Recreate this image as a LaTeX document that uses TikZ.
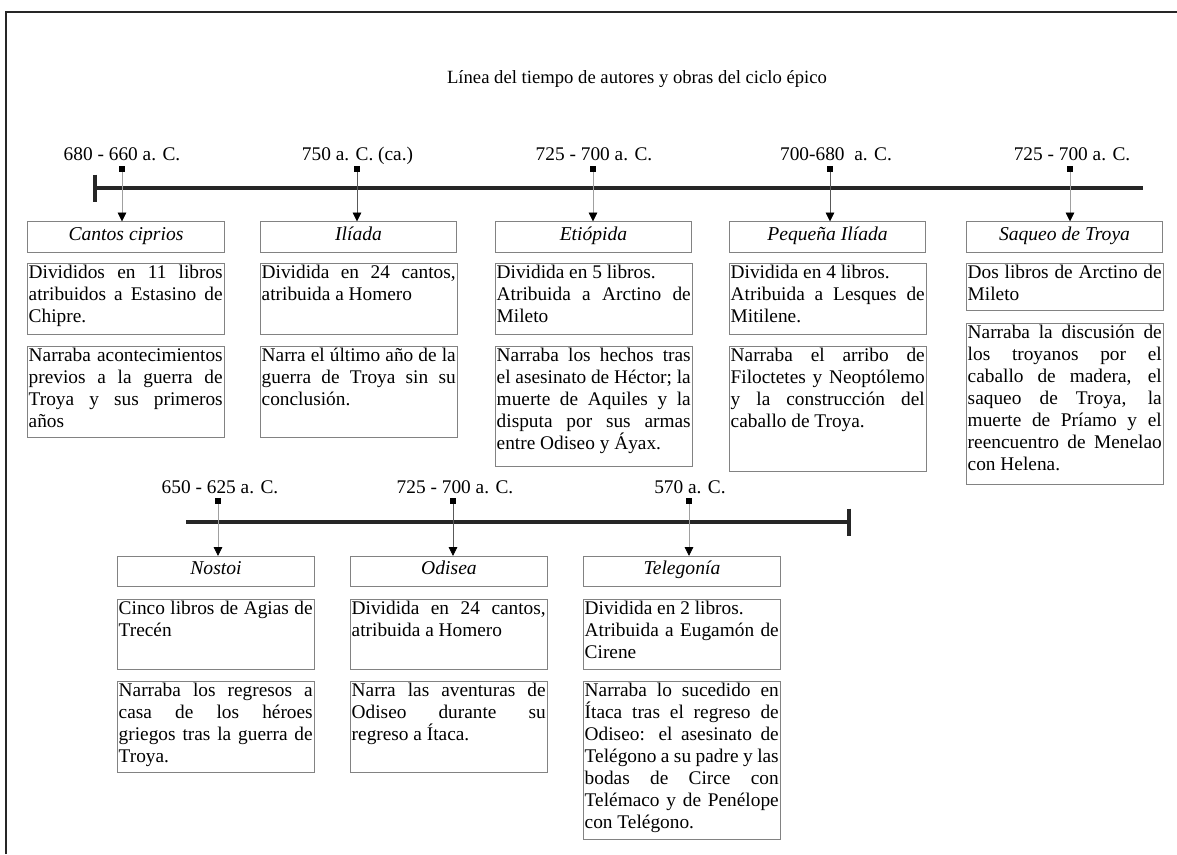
\documentclass[tikz,border=0pt]{standalone}
\usepackage{fontspec}
\setmainfont{Liberation Serif}
\usetikzlibrary{arrows.meta, positioning, calc}
\definecolor{boxgray}{RGB}{130,130,130}
\definecolor{conngray}{RGB}{160,160,160}
\newcommand{\desctext}[2]{\parbox[t][#1][t]{145.5pt}{\tolerance=10000\hbadness=10000 #2}}
\tikzset{
    frame/.style={line width=1.6pt, black!85},
    timeline/.style={line width=2.4pt, black!85},
    headline/.style={anchor=base, inner sep=0pt, font=\fontsize{14}{16}\selectfont},
    datelabel/.style={anchor=base, inner sep=0pt, font=\fontsize{14.5}{16}\selectfont},
    datemark/.style={rectangle, fill=black, minimum size=4.5pt, inner sep=0pt},
    conn/.style={draw=conngray, line width=0.5pt, -{Triangle[width=6.5pt,length=6.5pt,color=black]}},
    conndark/.style={conn, draw=black!65},
    titlebox/.style={draw=boxgray, line width=0.6pt, minimum width=147.5pt, minimum height=23pt,
        inner sep=0pt, text height=9.5pt, text depth=4.5pt, font=\fontsize{14.7}{16}\selectfont\itshape},
    descbox/.style={draw=boxgray, line width=0.6pt, anchor=north west, inner xsep=1pt,
        inner ysep=1pt, font=\fontsize{14.5}{16.5}\selectfont}
}
\begin{document}
\begin{tikzpicture}[x=0.75pt, y=-0.75pt]
    \useasboundingbox (0,0) rectangle (1177,854);
    \draw[frame] (6,854) -- (6,12) -- (1177,12);
    \node[headline] (title) at (637,83) {Línea del tiempo de autores y obras del ciclo épico};
    % primera linea
    \coordinate (tlA) at (95,188);
    \coordinate (tlB) at (1143,188);
    \draw[timeline] (tlA) -- (tlB);
    \draw[timeline] ($(tlA)+(0,-13.5)$) -- ($(tlA)+(0,13.5)$);
    \node[datelabel] (dcan) at (122,160) {680 - 660 a. C.};
    \node[datelabel] (dili) at (357.5,160) {750 a. C. (ca.)};
    \node[datelabel] (deti) at (594,160) {725 - 700 a. C.};
    \node[datelabel] (dpeq) at (836,160) {700-680\ \ a. C.};
    \node[datelabel] (dsaq) at (1072,160) {725 - 700 a. C.};
    \node[titlebox] (tcan) at (126,237) {Cantos ciprios};
    \node[titlebox] (tili) at (358.5,237) {Ilíada};
    \node[titlebox] (teti) at (593.5,237) {Etiópida};
    \node[titlebox] (tpeq) at (827.5,237) {Pequeña Ilíada};
    \node[titlebox] (tsaq) at (1064.5,237) {Saqueo de Troya};
    \node[datemark] (mcan) at (122,169) {};
    \node[datemark] (mili) at (357,169) {};
    \node[datemark] (meti) at (593,169) {};
    \node[datemark] (mpeq) at (830,169) {};
    \node[datemark] (msaq) at (1070,169) {};
    \draw[conn] (mcan) -- (mcan |- tcan.north);
    \draw[conndark] (mili) -- (mili |- tili.north);
    \draw[conn] (meti) -- (meti |- teti.north);
    \draw[conndark] (mpeq) -- (mpeq |- tpeq.north);
    \draw[conn] (msaq) -- (msaq |- tsaq.north);
    \node[descbox] (acan) at (27,263) {\desctext{51pt}{Divididos en 11 libros\linebreak atribuidos a Estasino de\linebreak Chipre.}};
    \node[descbox] (ncan) at (27,346) {\desctext{66pt}{Narraba acontecimientos\linebreak previos a la guerra de\linebreak Troya y sus primeros\linebreak años}};
    \node[descbox] (aili) at (260,263) {\desctext{51pt}{Dividida en 24 cantos,\linebreak atribuida a Homero}};
    \node[descbox] (nili) at (260,346) {\desctext{66pt}{Narra el último año de la\linebreak guerra de Troya sin su\linebreak conclusión.}};
    \node[descbox] (aeti) at (495,263) {\desctext{51pt}{Dividida en 5 libros.\\ Atribuida a Arctino de\linebreak Mileto}};
    \node[descbox] (neti) at (495,346) {\desctext{88pt}{Narraba los hechos tras\linebreak el asesinato de Héctor; la\linebreak muerte de Aquiles y la\linebreak disputa por sus armas\linebreak entre Odiseo y Áyax.}};
    \node[descbox] (apeq) at (729,263) {\desctext{51pt}{Dividida en 4 libros.\\ Atribuida a Lesques de\linebreak Mitilene.}};
    \node[descbox] (npeq) at (729,346) {\desctext{91.5pt}{Narraba el arribo de\linebreak Filoctetes y Neoptólemo\linebreak y la construcción del\linebreak caballo de Troya.}};
    \node[descbox] (asaq) at (966,263) {\desctext{33pt}{Dos libros de Arctino de\linebreak Mileto}};
    \node[descbox] (nsaq) at (966,323) {\desctext{118.5pt}{Narraba la discusión de\linebreak los troyanos por el\linebreak caballo de madera, el\linebreak saqueo de Troya, la\linebreak muerte de Príamo y el\linebreak reencuentro de Menelao\linebreak con Helena.}};
    % segunda linea
    \coordinate (tlC) at (186,522);
    \coordinate (tlD) at (849,522);
    \draw[timeline] (tlC) -- (tlD);
    \draw[timeline] ($(tlD)+(0,-13.5)$) -- ($(tlD)+(0,13.5)$);
    \node[datelabel] (dnos) at (220,493) {650 - 625 a. C.};
    \node[datelabel] (dodi) at (455,493) {725 - 700 a. C.};
    \node[datelabel] (dtel) at (690,493) {570 a. C.};
    \node[titlebox] (tnos) at (216,571.5) {Nostoi};
    \node[titlebox] (todi) at (449,571.5) {Odisea};
    \node[titlebox] (ttel) at (682,571.5) {Telegonía};
    \node[datemark] (mnos) at (218,501) {};
    \node[datemark] (modi) at (453,501) {};
    \node[datemark] (mtel) at (689,501) {};
    \draw[conn] (mnos) -- (mnos |- tnos.north);
    \draw[conndark] (modi) -- (modi |- todi.north);
    \draw[conn] (mtel) -- (mtel |- ttel.north);
    \node[descbox] (anos) at (117,599) {\desctext{50.5pt}{Cinco libros de Agias de\linebreak Trecén}};
    \node[descbox] (nnos) at (117,681) {\desctext{66pt}{Narraba los regresos a\linebreak casa de los héroes\linebreak griegos tras la guerra de\linebreak Troya.}};
    \node[descbox] (aodi) at (350,599) {\desctext{50.5pt}{Dividida en 24 cantos,\linebreak atribuida a Homero}};
    \node[descbox] (nodi) at (350,681) {\desctext{66pt}{Narra las aventuras de\linebreak Odiseo durante su\linebreak regreso a Ítaca.}};
    \node[descbox] (atel) at (583,599) {\desctext{50.5pt}{Dividida en 2 libros.\\ Atribuida a Eugamón de\linebreak Cirene}};
    \node[descbox] (ntel) at (583,681) {\desctext{116.5pt}{Narraba lo sucedido en\linebreak Ítaca tras el regreso de\linebreak Odiseo: el asesinato de\linebreak Telégono a su padre y las\linebreak bodas de Circe con\linebreak Telémaco y de Penélope\linebreak con Telégono.}};
\end{tikzpicture}
\end{document}
